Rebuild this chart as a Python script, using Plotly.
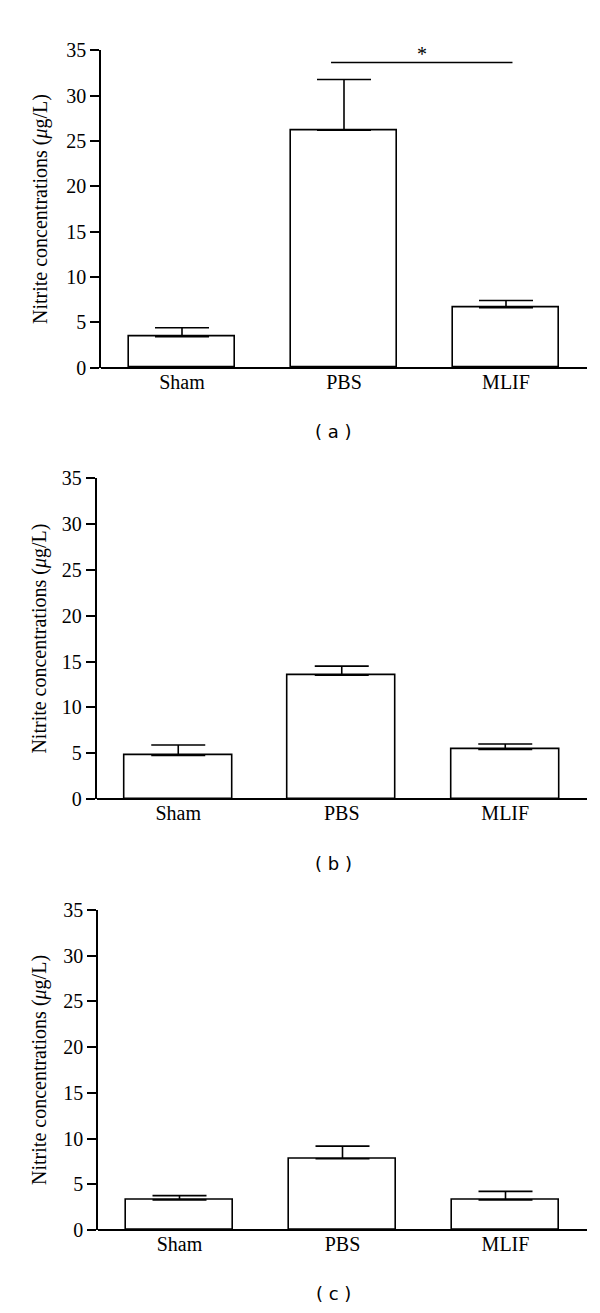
import plotly.graph_objects as go

W, H = 600, 1313

categories = ["Sham", "PBS", "MLIF"]
y_ticks = [0, 5, 10, 15, 20, 25, 30, 35]

values_a = [3.4, 26.2, 6.6]
errors_a = [1.0, 5.6, 0.8]
values_b = [4.75, 13.5, 5.4]
errors_b = [1.15, 1.0, 0.6]
values_c = [3.3, 7.8, 3.3]
errors_c = [0.46, 1.37, 0.93]

panel_labels = ["( a )", "( b )", "( c )"]
sig_star = "*"
sig_x = [0.92, 2.04]
sig_y = 33.67

# layout in pixels (left, right, top, bottom of each plot area) and label y
panels = [
    dict(vals=values_a, errs=errors_a, x0=93, x1=579, top=32, bot=354.5, lab_y=420),
    dict(vals=values_b, errs=errors_b, x0=88.5, x1=579, top=467, bot=793.3, lab_y=859),
    dict(vals=values_c, errs=errors_c, x0=90, x1=579, top=906, bot=1231.7, lab_y=1296),
]

serif = "Liberation Serif, Times New Roman, serif"
fig = go.Figure()
for i, p in enumerate(panels):
    n = "" if i == 0 else str(i + 1)
    fig.add_trace(go.Bar(
        x=[0, 1, 2], y=p["vals"], width=0.66,
        marker=dict(color="white", line=dict(color="black", width=1.6)),
        error_y=dict(type="data", symmetric=False, array=p["errs"],
                     arrayminus=[0] * 3, color="black", thickness=1.6, width=27),
        xaxis="x" + n, yaxis="y" + n, showlegend=False,
    ))
    xd = [p["x0"] / W, p["x1"] / W]
    yd = [1 - p["bot"] / H, 1 - p["top"] / H]
    fig.layout["xaxis" + n] = dict(
        domain=xd, range=[-0.5, 2.5], anchor="y" + n,
        tickmode="array", tickvals=[0, 1, 2], ticktext=categories,
        showline=False, ticks="",
        showgrid=False, zeroline=False,
        tickfont=dict(family=serif, size=20, color="black"),
    )
    fig.layout["yaxis" + n] = dict(
        domain=yd, range=[0, 35], anchor="x" + n,
        tickmode="array", tickvals=y_ticks,
        showline=True, linecolor="black", linewidth=1.6,
        ticks="outside", ticklen=9, tickwidth=1.6, tickcolor="black",
        showgrid=False, zeroline=True, zerolinecolor="black", zerolinewidth=1.6,
        tickfont=dict(family=serif, size=20, color="black"),
    )
    fig.add_annotation(
        x=32 / W, y=1 - (p["top"] + p["bot"]) / 2 / H, xref="paper", yref="paper",
        text="Nitrite concentrations (<i>μ</i>g/L)", textangle=-90, showarrow=False,
        font=dict(family=serif, size=20, color="black"), xanchor="center", yanchor="middle",
    )
    fig.add_annotation(
        x=325 / W, y=1 - p["lab_y"] / H, xref="paper", yref="paper",
        text=panel_labels[i], showarrow=False,
        font=dict(family="DejaVu Sans, Verdana, sans-serif", size=18, color="black"),
        xanchor="center", yanchor="middle",
    )

# significance bar in panel a
fig.add_trace(go.Scatter(x=sig_x, y=[sig_y, sig_y], mode="lines",
                         line=dict(color="black", width=1.6), xaxis="x", yaxis="y",
                         showlegend=False, hoverinfo="skip"))
fig.add_annotation(x=sum(sig_x) / 2, y=sig_y, xref="x", yref="y", text=sig_star,
                   showarrow=False, yanchor="bottom", yshift=-4,
                   font=dict(family=serif, size=20, color="black"))

fig.update_layout(width=W, height=H, margin=dict(l=0, r=0, t=0, b=0),
                  plot_bgcolor="white", paper_bgcolor="white", bargap=0)
fig.write_html("out.html")
